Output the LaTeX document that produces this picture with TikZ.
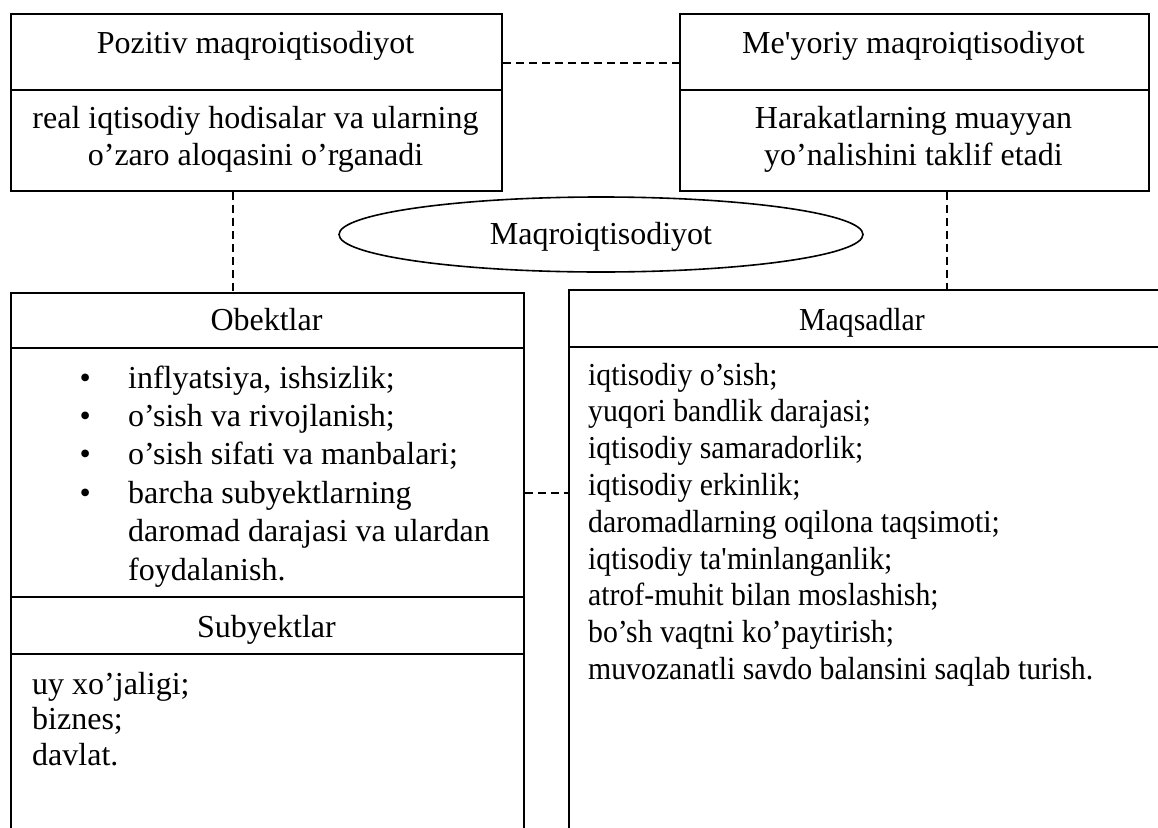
\documentclass[tikz,border=0pt]{standalone}
\usepackage{fontspec}
\setmainfont{Liberation Serif}
\usetikzlibrary{shapes.geometric,calc}
\begin{document}
\begin{tikzpicture}[x=1pt,y=-1pt,
  every node/.style={font=\fontsize{32}{37}\selectfont, inner sep=0pt},
  small/.style={font=\fontsize{32}{36.8}\selectfont\addfontfeature{FakeStretch=0.93}},
  frame/.style={draw, line width=1.8pt, rectangle, anchor=north west},
  link/.style={draw, line width=1.4pt, dash pattern=on 8.5pt off 4.5pt},
  lbl/.style={anchor=base},
  lst/.style={anchor=base west},
]
\useasboundingbox (0,0) rectangle (1158,827);
\clip (0,0) rectangle (1158,827);

% top boxes
\node[frame, minimum width=491pt, minimum height=76pt] (posH) at (10,13) {};
\node[frame, minimum width=491pt, minimum height=101pt] (posB) at (10,89) {};
\node[frame, minimum width=469pt, minimum height=76pt] (meyH) at (679,13) {};
\node[frame, minimum width=469pt, minimum height=101pt] (meyB) at (679,89) {};

\node[lbl] (tPosH) at (255.5,53) {Pozitiv maqroiqtisodiyot};
\node[lbl] (tMeyH) at (913.5,53) {Me\textquotesingle yoriy maqroiqtisodiyot};
\node[lbl] (tPosB) at (255.5,128) {\parbox[t]{480pt}{\centering\baselineskip=37pt real iqtisodiy hodisalar va ularning\\o’zaro aloqasini o’rganadi}};
\node[lbl] (tMeyB) at (913.5,128) {\parbox[t]{460pt}{\centering\baselineskip=37pt Harakatlarning muayyan\\yo’nalishini taklif etadi}};

% ellipse
\node[draw, ellipse, line width=1.6pt, minimum width=524pt, minimum height=75pt,
      text height=26pt, text depth=7pt] (macro) at (601,234.5) {Maqroiqtisodiyot};

% Obektlar / Subyektlar
\node[frame, minimum width=513pt, minimum height=55pt] (obH) at (10,292) {};
\node[frame, minimum width=513pt, minimum height=249pt] (obB) at (10,347) {};
\node[frame, minimum width=513pt, minimum height=57pt] (subH) at (10,596) {};
\node[frame, minimum width=513pt, minimum height=320pt] (subB) at (10,653) {};

\node[lbl] (tObH) at (266.5,330) {Obektlar};
\node[lst] (tObB) at (79.5,388) {\parbox[t]{440pt}{\baselineskip=38.4pt
  \makebox[48.5pt][l]{•}inflyatsiya, ishsizlik;\\
  \makebox[48.5pt][l]{•}o’sish va rivojlanish;\\
  \makebox[48.5pt][l]{•}o’sish sifati va manbalari;\\
  \makebox[48.5pt][l]{•}barcha subyektlarning\\
  \hspace*{48.5pt}daromad darajasi va ulardan\\
  \hspace*{48.5pt}foydalanish.}};
\node[lbl] (tSubH) at (266.5,637) {Subyektlar};
\node[lst] (tSubB) at (32,694) {\parbox[t]{440pt}{\baselineskip=35.5pt
  uy xo’jaligi;\\biznes;\\davlat.}};

% Maqsadlar
\node[frame, minimum width=600pt, minimum height=57pt] (maqH) at (568,289) {};
\node[frame, minimum width=600pt, minimum height=620pt] (maqB) at (568,346) {};
\node[lbl, small] (tMaqH) at (862,330) {Maqsadlar};
\node[lst, small] (tMaqB) at (588,385) {\parbox[t]{560pt}{\baselineskip=36.8pt
  iqtisodiy o’sish;\\
  yuqori bandlik darajasi;\\
  iqtisodiy samaradorlik;\\
  iqtisodiy erkinlik;\\
  daromadlarning oqilona taqsimoti;\\
  iqtisodiy ta\textquotesingle minlanganlik;\\
  atrof-muhit bilan moslashish;\\
  bo’sh vaqtni ko’paytirish;\\
  muvozanatli savdo balansini saqlab turish.}};

% dashed connectors
\draw[link] ([yshift=-50pt]posH.north east) -- ([yshift=-50pt]meyH.north west);
\coordinate (cL) at ([xshift=223pt]posB.south west);
\draw[link] (cL) -- (cL |- obH.north);
\coordinate (cR) at ([xshift=268pt]meyB.south west);
\draw[link] (cR) -- (cR |- maqH.north);
\coordinate (cM) at ([yshift=-146pt]obB.north east);
\draw[link] (cM) -- (cM -| maqB.west);
\end{tikzpicture}
\end{document}
